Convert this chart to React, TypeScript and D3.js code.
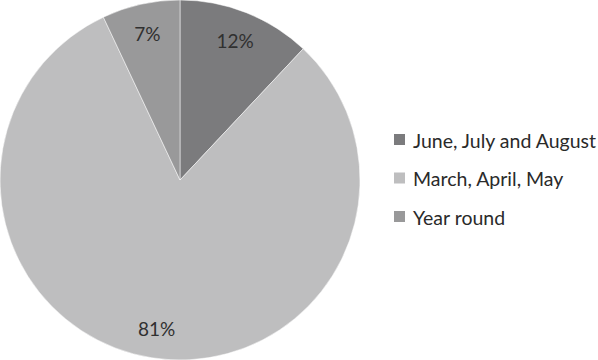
import React from "react";
import * as d3 from "d3";

const categories = ["June, July and August", "March, April, May", "Year round"];
const values = [12, 81, 7];
const colors = ["#7b7b7d", "#bebebf", "#99999a"];

const W = 598;
const H = 360;
const cx = 180;
const cy = 180;
const R = 180;
const FONT = "Lato, 'Open Sans', 'Liberation Sans', sans-serif";

export default function App() {
  const pie = d3.pie<number>().sort(null).value((d) => d);
  const arcs = pie(values);
  const arc = d3.arc<d3.PieArcDatum<number>>().innerRadius(0).outerRadius(R);
  const labelArc = d3.arc<d3.PieArcDatum<number>>().innerRadius(150).outerRadius(150);

  return (
    <svg width={W} height={H} style={{ position: "absolute", left: 0, top: 0, background: "#fff" }}>
      <g transform={`translate(${cx},${cy})`}>
        {arcs.map((a, i) => (
          <path key={i} d={arc(a) ?? ""} fill={colors[i]} stroke="#ffffff" strokeWidth={0.5} />
        ))}
        {arcs.map((a, i) => {
          const [x, y] = labelArc.centroid(a);
          return (
            <text
              key={i}
              x={x}
              y={y}
              textAnchor="middle"
              dominantBaseline="central"
              fontFamily={FONT}
              fontSize={19}
              fill="#303030"
            >
              {values[i]}%
            </text>
          );
        })}
      </g>
      <g transform="translate(394,140)">
        {categories.map((c, i) => (
          <g key={i} transform={`translate(0,${i * 38.5})`}>
            <rect x={0} y={-6} width={11} height={11} fill={colors[i]} />
            <text x={19} y={0} dominantBaseline="central" fontFamily={FONT} fontSize={19.5} fill="#2a2a2a">
              {c}
            </text>
          </g>
        ))}
      </g>
    </svg>
  );
}
